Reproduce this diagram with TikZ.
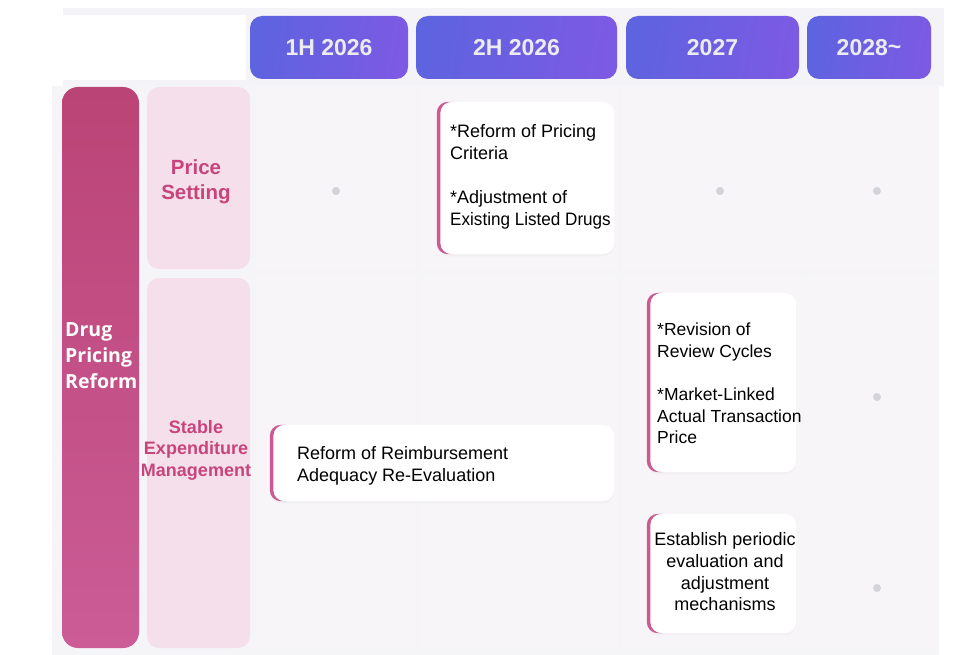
\documentclass[tikz,border=0pt]{standalone}
\usepackage{fontspec}
\setmainfont{Liberation Sans}
\newfontfamily\hdrfont{Liberation Sans}
\newfontfamily\barfont{Open Sans}
\usetikzlibrary{shadows}
\definecolor{pagebg}{HTML}{FFFFFF}
\definecolor{bandbg}{HTML}{F3F3F8}
\definecolor{bodybg}{HTML}{F5F5F8}
\definecolor{cellbg}{HTML}{F8F5F8}
\definecolor{hdrA}{HTML}{5E63E0}
\definecolor{hdrB}{HTML}{7C5AE3}
\definecolor{hdrtext}{HTML}{EBEBF0}
\definecolor{barA}{HTML}{BB4476}
\definecolor{barB}{HTML}{CB5C96}
\definecolor{catbg}{HTML}{F4DFEA}
\definecolor{cattext}{HTML}{C8447D}
\definecolor{cardedge}{HTML}{CC5A92}
\definecolor{dotc}{HTML}{D3D3DA}
\newcommand{\cardrimdraw}[1]{%
  \begin{scope}
    \clip ([xshift=-2pt,yshift=2pt]#1.north west) rectangle ([xshift=16pt,yshift=-2pt]#1.south west);
    \fill[cardrim] (#1.south west) rectangle (#1.north east) ([xshift=3.5pt]#1.south west) rectangle (#1.north east);
  \end{scope}}
\begin{document}
\begin{tikzpicture}[x=1pt,y=-1pt,
  hdr/.style={rounded corners=12, inner sep=0, minimum height=63,
    shading=axis, left color=hdrA, right color=hdrB, shading angle=80,
    text=hdrtext, font=\hdrfont\bfseries\fontsize{23}{26}\selectfont},
  catbox/.style={rounded corners=12, fill=catbg, inner sep=0, minimum width=103},
  cattxt/.style={text=cattext, align=center, inner sep=0, font=\hdrfont\bfseries},
  cardface/.style={rounded corners=11, fill=white, inner sep=0,
    drop shadow={opacity=0.035, shadow xshift=0pt, shadow yshift=-2.5pt}},
  cardrim/.style={fill=cardedge, even odd rule, rounded corners=11},
  cardtxt/.style={inner sep=0, align=left, font=\fontsize{18}{22}\selectfont},
  dotn/.style={circle, fill=dotc, inner sep=0, minimum size=8},
  cellbox/.style={fill=cellbg, inner sep=0}
]
\useasboundingbox (0,0) rectangle (960,655);
\fill[pagebg] (0,0) rectangle (960,655);
% backgrounds
\fill[bandbg] (63,8) rectangle (944,86);
\fill[white] (63,15) rectangle (246,80);
\fill[bodybg] (52,86) rectangle (939,655);
% cells
\node[cellbox, minimum width=160, minimum height=182] (cA1) at (336,178) {};
\node[cellbox, minimum width=200, minimum height=182] (cB1) at (519,178) {};
\node[cellbox, minimum width=180, minimum height=182] (cC1) at (712,178) {};
\node[cellbox, minimum width=132, minimum height=182] (cD1) at (870,178) {};
\node[cellbox, minimum width=160, minimum height=372] (cA2) at (336,463) {};
\node[cellbox, minimum width=200, minimum height=372] (cB2) at (519,463) {};
\node[cellbox, minimum width=180, minimum height=372] (cC2) at (712,463) {};
\node[cellbox, minimum width=132, minimum height=372] (cD2) at (870,463) {};
% headers
\node[hdr, minimum width=158] (h1) at (329,47.5) {1H 2026};
\node[hdr, minimum width=201] (h2) at (516.5,47.5) {2H 2026};
\node[hdr, minimum width=173] (h3) at (712.5,47.5) {2027};
\node[hdr, minimum width=124] (h4) at (869,47.5) {2028\raisebox{1pt}{\textasciitilde}};
% left bar
\node[rounded corners=16, inner sep=0, minimum width=77, minimum height=561,
  top color=barA, bottom color=barB] (bar) at (100.5,367.5) {};
\node[inner sep=0, anchor=west, align=left, text=white,
  font=\barfont\bfseries\fontsize{19.5}{26}\selectfont] (bartxt) at (65,356) {Drug\\Pricing\\Reform};
% categories
\node[catbox, minimum height=182] (cat1) at (198.5,178) {};
\node[cattxt, font=\hdrfont\bfseries\fontsize{20.5}{25}\selectfont] (cat1t) at (196,182) {Price\\Setting};
\node[catbox, minimum height=370] (cat2) at (198.5,463) {};
\node[cattxt, font=\hdrfont\bfseries\fontsize{18}{21.5}\selectfont] (cat2t) at (196,450) {Stable\\Expenditure\\Management};
% dots
\node[dotn] (d1) at (336,191) {};
\node[dotn] (d2) at (720,191) {};
\node[dotn] (d3) at (877,191) {};
\node[dotn] (d4) at (877,397) {};
\node[dotn] (d5) at (877,588) {};
% card 1
\node[cardface, minimum width=177, minimum height=152] (k1) at (525.5,178) {};
\cardrimdraw{k1}
\node[cardtxt, anchor=west] (k1t) at (450,177) {*Reform of Pricing\\Criteria\\[22pt]*Adjustment of\\\scalebox{0.95}[1]{Existing Listed Drugs}};
% card 2
\node[cardface, minimum width=344, minimum height=76] (k2) at (442,463) {};
\cardrimdraw{k2}
\node[cardtxt, anchor=west] (k2t) at (297,466) {Reform of Reimbursement\\Adequacy Re-Evaluation};
% card 3
\node[cardface, minimum width=149, minimum height=179] (k3) at (721.5,382.5) {};
\cardrimdraw{k3}
\node[cardtxt, anchor=west, font=\fontsize{17.5}{21.6}\selectfont] (k3t) at (657,383.5) {*Revision of\\Review Cycles\\[21.6pt]*Market-Linked\\Actual Transaction\\Price};
% card 4
\node[cardface, minimum width=149, minimum height=119] (k4) at (721.5,573.5) {};
\cardrimdraw{k4}
\node[cardtxt, align=center, font=\fontsize{18}{21.7}\selectfont] (k4t) at (725,572) {Establish periodic\\evaluation and\\adjustment\\mechanisms};
\end{tikzpicture}
\end{document}
